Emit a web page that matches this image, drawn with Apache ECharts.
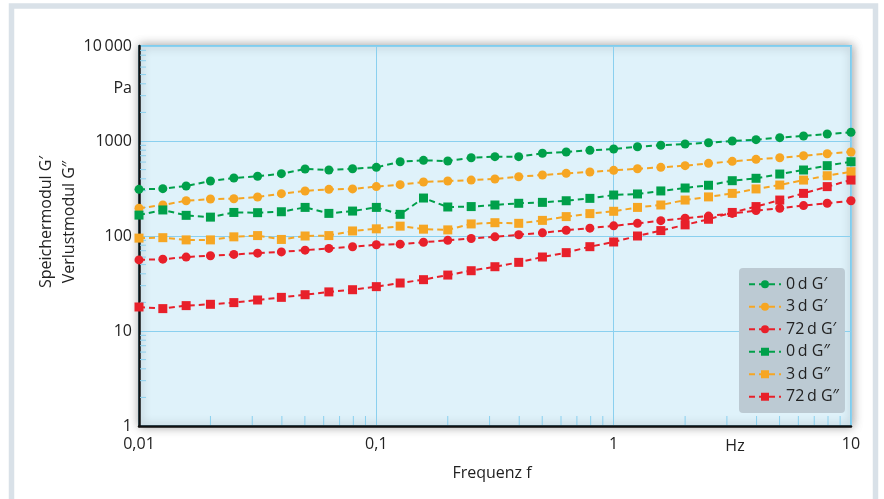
<!DOCTYPE html>
<html><head><meta charset="utf-8">
<script src="https://cdn.jsdelivr.net/npm/echarts@6/dist/echarts.min.js"></script>
<style>html,body{margin:0;padding:0;background:#fff}#c{width:884px;height:499px}</style>
</head><body><div id="c"></div>
<script>
const freq = [0.01,0.0126,0.0158,0.02,0.0251,0.0316,0.0398,0.0501,0.0631,0.0794,0.1,0.126,0.158,0.2,0.251,0.316,0.398,0.501,0.631,0.794,1,1.26,1.58,2,2.51,3.16,3.98,5.01,6.31,7.94,10];
const g0p  = [310,315,336,379,408,425,453,507,495,511,528,605,626,615,667,684,684,743,766,798,824,871,901,929,959,1000,1033,1084,1130,1186,1235];
const g3p  = [196,212,235,245,247,257,279,298,310,313,331,347,370,379,388,398,421,439,457,472,491,511,528,550,582,611,641,667,700,735,766];
const g72p = [56,57,60,62,64,66,68,71,74,77,81,82,86,90,94,98,103,108,115,121,128,136,145,154,162,173,185,196,209,221,235];
const g0pp = [166,188,165,158,177,176,180,200,173,183,200,169,251,202,204,212,221,226,235,249,270,277,298,320,342,382,405,449,495,550,605];
const g3pp = [95,96,91,91,98,101,92,100,101,113,119,127,118,116,134,138,136,146,160,172,182,200,212,239,258,281,313,344,388,431,475];
const g72pp= [17.9,17.2,18.5,19.1,19.9,21.2,22.6,24.1,25.8,27.2,29.3,32.0,34.7,38.8,43.1,47.5,52.8,60.1,66.8,77.2,86.5,100,114,131,150,177,204,239,281,331,388];
const seriesNames = ['0\u2009d G\u2032','3\u2009d G\u2032','72\u2009d G\u2032','0\u2009d G\u2033','3\u2009d G\u2033','72\u2009d G\u2033'];
const xTickLabels = {0.01:'0,01',0.1:'0,1',1:'1',10:'10'};
const yTickLabels = {1:'1',10:'10',100:'100',1000:'1000',10000:'10\u2009000'};
const xMinor = [0.02,0.03,0.04,0.05,0.06,0.07,0.08,0.09,0.2,0.3,0.4,0.5,0.6,0.7,0.8,0.9,2,3,4,5,6,7,8,9];
const yMinor = [2,3,4,5,6,7,8,9,20,30,40,50,60,70,80,90,200,300,400,500,600,700,800,900,2000,3000,4000,5000,6000,7000,8000,9000];

const GREEN='#00a04a', ORANGE='#f6a623', RED='#e8202a';
const FONT='"Open Sans", "Noto Sans", sans-serif';
const chart = echarts.init(document.getElementById('c'), null, {renderer:'canvas'});

function line(name, vals, color, symbol){
  return {
    name, type:'line', data: freq.map((f,i)=>[f, vals[i]]),
    symbol, symbolSize: 9,
    lineStyle:{color, width:2, type:[6,4]},
    itemStyle:{color},
    emphasis:{disabled:true}, animation:false, z:5
  };
}

const option = {
  animation:false,
  backgroundColor:'#ffffff',
  graphic:[
    {type:'rect', shape:{x:11.5,y:6,width:864,height:540}, style:{fill:'none', stroke:'#d9e1e8', lineWidth:5.5}, silent:true, z:-10},
    {type:'text', x:46, y:222, rotation:Math.PI/2, style:{text:'Speichermodul G\u2032', font:'16px '+FONT, fill:'#222', align:'center', verticalAlign:'middle'}},
    {type:'text', x:69, y:222, rotation:Math.PI/2, style:{text:'Verlustmodul G\u2033', font:'16px '+FONT, fill:'#222', align:'center', verticalAlign:'middle'}},
    {type:'text', x:132, y:88, style:{text:'Pa', font:'16px '+FONT, fill:'#222', align:'right', verticalAlign:'middle'}},
    {type:'text', x:735, y:446, style:{text:'Hz', font:'16px '+FONT, fill:'#222', align:'center', verticalAlign:'middle'}},
    {type:'text', x:492, y:473, style:{text:'Frequenz f', font:'16px '+FONT, fill:'#222', align:'center', verticalAlign:'middle'}}
  ],
  grid:{left:139, top:46, right:33, bottom:73, show:true, backgroundColor:'#dff2fa', borderColor:'#7fcdee', borderWidth:2,
        shadowBlur:10, shadowColor:'rgba(0,0,0,0.35)', shadowOffsetX:1, shadowOffsetY:0},
  legend:{
    data:seriesNames, orient:'vertical', left:739, top:268, padding:[8,6,8,9],
    backgroundColor:'#bccad3', borderRadius:4, itemWidth:32, itemHeight:10, itemGap:6,
    textStyle:{fontSize:16, fontFamily:FONT, color:'#222', lineHeight:16.5}, selectedMode:false
  },
  xAxis:{
    type:'log', logBase:10, min:0.01, max:10,
    axisLine:{show:true, onZero:false, lineStyle:{color:'#111', width:2.5}},
    axisTick:{show:false},
    splitLine:{show:true, lineStyle:{color:'#8ad0ef', width:1}},
    axisLabel:{fontSize:16, fontFamily:FONT, color:'#222', margin:10, formatter:v=>xTickLabels[+v.toPrecision(3)]||''}
  },
  yAxis:{
    type:'log', logBase:10, min:1, max:10000,
    axisLine:{show:true, onZero:false, lineStyle:{color:'#111', width:2.5}},
    axisTick:{show:false},
    splitLine:{show:true, lineStyle:{color:'#8ad0ef', width:1}},
    axisLabel:{fontSize:16, fontFamily:FONT, color:'#222', margin:7, formatter:v=>yTickLabels[+v.toPrecision(3)]||''}
  },
  series:[
    {type:'custom', name:'xminor', silent:true, z:3, data:xMinor.map(v=>[v,1]), clip:false,
     renderItem:(params, api)=>{const p=api.coord([api.value(0),1]);
       return {type:'line', shape:{x1:p[0],y1:p[1]-1,x2:p[0],y2:p[1]-10}, style:{stroke:'#8ad0ef', lineWidth:1}};}},
    {type:'custom', name:'yminor', silent:true, z:3, data:yMinor.map(v=>[0.01,v]), clip:false,
     renderItem:(params, api)=>{const p=api.coord([0.01,api.value(1)]);
       return {type:'line', shape:{x1:p[0]+1,y1:p[1],x2:p[0]+7,y2:p[1]}, style:{stroke:'#8ad0ef', lineWidth:1}};}},
    line(seriesNames[0], g0p, GREEN, 'circle'),
    line(seriesNames[1], g3p, ORANGE, 'circle'),
    line(seriesNames[2], g72p, RED, 'circle'),
    line(seriesNames[3], g0pp, GREEN, 'rect'),
    line(seriesNames[4], g3pp, ORANGE, 'rect'),
    line(seriesNames[5], g72pp, RED, 'rect')
  ]
};
chart.setOption(option);
</script></body></html>
